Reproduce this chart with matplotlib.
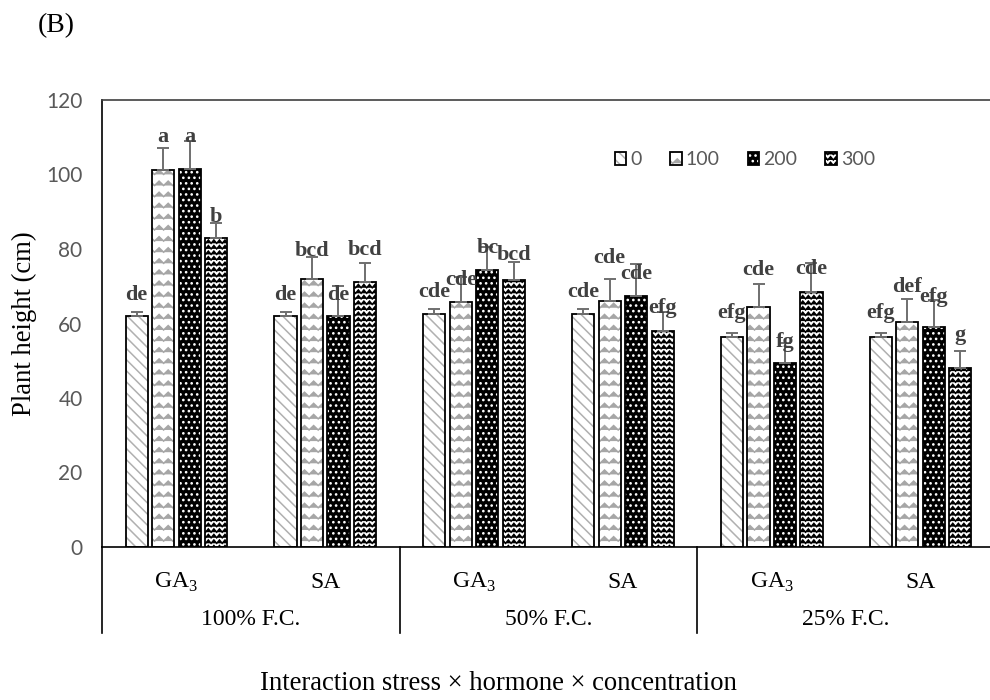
import warnings
import numpy as np
import matplotlib
matplotlib.use('Agg')
import matplotlib.pyplot as plt
import matplotlib.hatch as mhatch
from matplotlib.path import Path
from matplotlib.patches import Patch

warnings.filterwarnings('ignore')

plt.rcParams['mathtext.fontset'] = 'custom'
plt.rcParams['mathtext.rm'] = 'Liberation Serif'
plt.rcParams['hatch.linewidth'] = 1.1

## Data
stress = ['100% F.C.', '50% F.C.', '25% F.C.']
hormones = ['GA$_3$', 'SA']
conc = ['0', '100', '200', '300']

h0   = [62.0, 62.0, 62.5, 62.5, 56.3, 56.3]
h100 = [101.2, 71.9, 65.9, 66.0, 64.3, 60.3]
h200 = [101.6, 62.0, 74.4, 67.4, 49.5, 59.0]
h300 = [82.9, 71.2, 71.7, 58.1, 68.5, 48.0]

se0   = [1.2, 1.2, 1.3, 1.3, 1.2, 1.2]
se100 = [5.8, 6.0, 6.7, 6.0, 6.2, 6.2]
se200 = [7.4, 8.0, 6.2, 8.5, 5.3, 7.3]
se300 = [4.0, 5.0, 4.9, 5.0, 7.7, 4.7]

let0   = ['de', 'de', 'cde', 'cde', 'efg', 'efg']
let100 = ['a', 'bcd', 'cde', 'cde', 'cde', 'def']
let200 = ['a', 'de', 'bc', 'cde', 'fg', 'efg']
let300 = ['b', 'bcd', 'bcd', 'efg', 'cde', 'g']

# baseline heights of the significance letters
tag0   = [66.3, 66.3, 67.2, 67.2, 61.4, 61.4]
tag100 = [108.8, 78.1, 70.3, 76.2, 73.0, 68.5]
tag200 = [108.8, 66.3, 78.8, 71.9, 53.8, 65.9]
tag300 = [87.3, 78.4, 77.0, 62.7, 73.3, 55.6]


## Zigzag hatch ('z' = light waves, 'w' = dense waves)
class ZigzagHatch(mhatch.HatchPatternBase):
    def __init__(self, hatch, density):
        nz = hatch.count('z')
        nw = hatch.count('w')
        if nz:
            self.num_rows = int(nz * density * 0.8)
            self.num_teeth = 11
            self.amp = 0.022
        else:
            self.num_rows = int(nw * density)
            self.num_teeth = self.num_rows
            self.amp = 0.3 / max(self.num_rows, 1)
        self.num_vertices = self.num_rows * (2 * self.num_teeth + 1)

    def set_vertices_and_codes(self, vertices, codes):
        n = 2 * self.num_teeth + 1
        xs = np.linspace(0, 1, n)
        wave = np.where(np.arange(n) % 2 == 0, -self.amp, self.amp)
        for i in range(self.num_rows):
            vertices[i * n:(i + 1) * n, 0] = xs
            vertices[i * n:(i + 1) * n, 1] = (i + 0.5) / self.num_rows + wave
        codes[:] = Path.LINETO
        codes[::n] = Path.MOVETO


mhatch._hatch_types.append(ZigzagHatch)

heights = [h0, h100, h200, h300]
errors = [se0, se100, se200, se300]
letters = [let0, let100, let200, let300]
tags = [tag0, tag100, tag200, tag300]

face = ['white', 'white', 'black', 'white']
hcol = ['#b0b0b0', '#a6a6a6', 'white', 'black']
hatches = ['\\\\\\', 'zz', '...', 'www']

x = np.arange(6) + 0.5
width = 0.148
offsets = np.array([-1.5, -0.5, 0.5, 1.5]) * 0.178

fig = plt.figure(figsize=(9.9, 7), dpi=100)
ax = fig.add_axes([102 / 990, 153 / 700, 893 / 990, 447 / 700])

for k in range(4):
    xs = x + offsets[k]
    ax.bar(xs, heights[k], width, color=face[k], edgecolor=hcol[k],
           hatch=hatches[k], linewidth=0, zorder=2)
    ax.bar(xs, heights[k], width, fill=False, edgecolor='black',
           linewidth=1.3, zorder=3)
    ax.errorbar(xs, heights[k], yerr=[np.zeros(6), errors[k]], fmt='none',
                ecolor='#6f6f6f', elinewidth=1.4, capsize=4, capthick=1.4,
                zorder=4)
    for xi, t, yt in zip(xs, letters[k], tags[k]):
        ax.text(xi, yt, t, ha='center', va='baseline', fontsize=16,
                fontweight='bold', family='Liberation Serif', color='#404040',
                zorder=5)

ax.set_xlim(0, 6)
ax.set_ylim(0, 120)
ax.set_yticks(np.arange(0, 121, 20))
ax.set_xticks([])
ax.tick_params(axis='y', length=0, pad=14, labelsize=15, labelcolor='#595959')
for lab in ax.get_yticklabels():
    lab.set_family('Lato')
ax.spines['right'].set_visible(False)
ax.spines['top'].set_color('#404040')
ax.spines['left'].set_color('black')
ax.spines['bottom'].set_color('black')
for s in ax.spines.values():
    s.set_linewidth(1.2)

# multi-level category axis
tr = ax.get_xaxis_transform()
for xl in [0, 2, 4]:
    ax.plot([xl, xl], [0, -0.192], transform=tr, color='black', lw=1.2,
            clip_on=False)
for i, xi in enumerate(x):
    ax.text(xi, -0.08, hormones[i % 2], transform=tr, ha='center',
            va='center', fontsize=17, family='Liberation Serif')
for j, s in enumerate(stress):
    ax.text(2 * j + 1, -0.163, s, transform=tr, ha='center', va='center',
            fontsize=17, family='Liberation Serif')

ax.set_ylabel('Plant height (cm)', fontsize=19.2, family='Liberation Serif')
ax.yaxis.set_label_coords(-0.073, 0.5)
fig.text(0.5035, 0.024, 'Interaction stress \u00d7 hormone \u00d7 concentration',
         ha='center', va='center', fontsize=19.2, family='Liberation Serif')
fig.text(0.038, 0.964, '(B)', ha='left', va='center', fontsize=20,
         family='Liberation Serif')

handles = [(Patch(facecolor=face[k], edgecolor=hcol[k], hatch=hatches[k], lw=0),
            Patch(fill=False, edgecolor='black', lw=1.3)) for k in range(4)]
leg = ax.legend(handles, conc, loc='center', bbox_to_anchor=(0.72, 0.866),
                ncol=4, frameon=False, handlelength=0.6, handleheight=0.6,
                handletextpad=0.2, columnspacing=1.45,
                prop={'family': 'Lato', 'size': 14})
for t in leg.get_texts():
    t.set_color('#595959')

fig.savefig('out.png', dpi=100)
